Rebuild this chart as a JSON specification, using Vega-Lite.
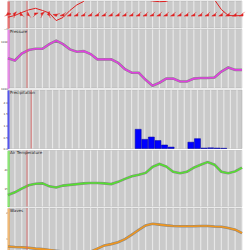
{
  "$schema": "https://vega.github.io/schema/vega-lite/v6.json",
  "padding": 0,
  "spacing": 1.5,
  "bounds": "flush",
  "background": "white",
  "config": {
    "view": {"fill": "#cacaca", "stroke": "#aaaaaa", "strokeWidth": 0.5},
    "axisX": {"labels": false, "ticks": false, "domain": false, "title": null, "grid": false},
    "axisY": {"title": null, "grid": false, "ticks": false, "labelFontSize": 2.8, "labelColor": "#333333", "labelPadding": 0.5, "domainWidth": 2, "labelFont": "DejaVu Sans"},
    "title": {"anchor": "start", "frame": "group", "fontSize": 4, "fontWeight": "normal", "color": "#222222", "font": "DejaVu Sans", "offset": -5.5, "dx": 2}
  },
  "datasets": {
    "met": [
      {"t":0,"p":1015.1,"temp":13.1,"wave":0.19,"wind":-0.2,"dir":200},
      {"t":1,"p":1014.7,"temp":13.8,"wave":0.17,"wind":-0.07,"dir":150},
      {"t":2,"p":1015.9,"temp":14.8,"wave":0.16,"wind":0.15,"dir":90},
      {"t":3,"p":1016.5,"temp":15.7,"wave":0.14,"wind":0.34,"dir":100},
      {"t":4,"p":1016.7,"temp":16.1,"wave":0.11,"wind":0.46,"dir":180},
      {"t":5,"p":1016.7,"temp":16.2,"wave":0.09,"wind":0.3,"dir":160},
      {"t":6,"p":1017.5,"temp":15.4,"wave":0.06,"wind":0.11,"dir":120},
      {"t":7,"p":1018.1,"temp":15.1,"wave":0.03,"wind":-0.45,"dir":30},
      {"t":8,"p":1017.5,"temp":15.6,"wave":0.0,"wind":-0.22,"dir":10},
      {"t":9,"p":1016.6,"temp":15.8,"wave":-0.02,"wind":0.3,"dir":0},
      {"t":10,"p":1016.2,"temp":16.0,"wave":-0.02,"wind":0.71,"dir":0},
      {"t":11,"p":1016.3,"temp":16.2,"wave":-0.02,"wind":0.97,"dir":0},
      {"t":12,"p":1015.8,"temp":16.3,"wave":-0.01,"wind":1.5,"dir":0},
      {"t":13,"p":1014.9,"temp":16.3,"wave":0.11,"wind":1.9,"dir":0},
      {"t":14,"p":1014.9,"temp":16.2,"wave":0.23,"wind":2.2,"dir":0},
      {"t":15,"p":1014.9,"temp":16.0,"wave":0.28,"wind":2.4,"dir":0},
      {"t":16,"p":1014.3,"temp":16.6,"wave":0.35,"wind":2.3,"dir":0},
      {"t":17,"p":1013.2,"temp":17.4,"wave":0.47,"wind":2.0,"dir":0},
      {"t":18,"p":1012.6,"temp":18.1,"wave":0.64,"wind":1.6,"dir":0},
      {"t":19,"p":1012.6,"temp":18.5,"wave":0.82,"wind":1.3,"dir":0},
      {"t":20,"p":1011.4,"temp":19.0,"wave":0.99,"wind":1.1,"dir":0},
      {"t":21,"p":1010.4,"temp":20.6,"wave":1.05,"wind":1.0,"dir":0},
      {"t":22,"p":1010.9,"temp":21.4,"wave":1.02,"wind":0.95,"dir":0},
      {"t":23,"p":1011.6,"temp":20.7,"wave":0.99,"wind":0.97,"dir":0},
      {"t":24,"p":1011.6,"temp":19.3,"wave":0.97,"wind":1.2,"dir":0},
      {"t":25,"p":1011.1,"temp":18.9,"wave":0.96,"wind":1.5,"dir":0},
      {"t":26,"p":1011.1,"temp":19.3,"wave":0.96,"wind":1.8,"dir":0},
      {"t":27,"p":1011.6,"temp":20.4,"wave":0.96,"wind":2.0,"dir":0},
      {"t":28,"p":1011.7,"temp":21.2,"wave":0.97,"wind":1.8,"dir":0},
      {"t":29,"p":1011.7,"temp":21.9,"wave":0.97,"wind":1.4,"dir":0},
      {"t":30,"p":1011.8,"temp":21.2,"wave":0.95,"wind":1.1,"dir":0},
      {"t":31,"p":1012.8,"temp":19.3,"wave":0.94,"wind":0.37,"dir":0},
      {"t":32,"p":1013.5,"temp":18.9,"wave":0.89,"wind":-0.07,"dir":0},
      {"t":33,"p":1013.1,"temp":19.4,"wave":0.83,"wind":-0.1,"dir":0},
      {"t":34,"p":1013.1,"temp":20.4,"wave":0.70,"wind":-0.07,"dir":0}
    ],
    "rain": [
      {"t":19,"pr":0.82},{"t":20,"pr":0.39},{"t":21,"pr":0.49},{"t":22,"pr":0.34},{"t":23,"pr":0.15},{"t":24,"pr":0.06},
      {"t":27,"pr":0.27},{"t":28,"pr":0.42},{"t":29,"pr":0.02},{"t":30,"pr":0.03},{"t":31,"pr":0.02},{"t":32,"pr":0.01}
    ],
    "now": [{"t":2.76}]
  },
  "vconcat": [
    {
      "width": 234, "height": 27,
      "data": {"name": "met"},
      "layer": [
        {"mark": {"type": "rule", "color": "#ffffff", "opacity": 0.55, "strokeWidth": 1.2},
         "encoding": {"x": {"field": "t", "type": "quantitative", "scale": {"domain": [0, 34], "nice": false, "zero": false}}}},
        {"mark": {"type": "line", "color": "#e02020", "strokeWidth": 1, "clip": true},
         "encoding": {
           "x": {"field": "t", "type": "quantitative"},
           "y": {"field": "wind", "type": "quantitative", "scale": {"domain": [-1, 1], "nice": false}, "axis": {"values": [-1, 0], "domainColor": "#e03030"}}
         }},
        {"mark": {"type": "point", "filled": true, "color": "#e02020", "size": 28, "opacity": 1, "shape": "M-1,0.6 L0.4,-0.4 L0.4,0.6 Z M0.4,-0.4 L1,-1", "stroke": "#e02020", "strokeWidth": 0.5},
         "encoding": {
           "x": {"field": "t", "type": "quantitative"},
           "y": {"datum": 0},
           "angle": {"field": "dir", "type": "quantitative", "scale": null}
         }},
        {"data": {"name": "now"}, "mark": {"type": "rule", "color": "#e06060", "strokeWidth": 0.8},
         "encoding": {"x": {"field": "t", "type": "quantitative"}}}
      ]
    },
    {
      "width": 234, "height": 58.5,
      "title": "Pressure",
      "data": {"name": "met"},
      "layer": [
        {"mark": {"type": "rule", "color": "#ffffff", "opacity": 0.55, "strokeWidth": 1.2},
         "encoding": {"x": {"field": "t", "type": "quantitative", "scale": {"domain": [0, 34], "nice": false, "zero": false}}}},
        {"mark": {"type": "line", "color": "#888888", "strokeWidth": 2.6},
         "encoding": {
           "x": {"field": "t", "type": "quantitative"},
           "y": {"field": "p", "type": "quantitative", "scale": {"domain": [1010, 1020], "nice": false, "zero": false}, "axis": {"values": [1010, 1012, 1014, 1016, 1018], "format": "d", "domainColor": "#dd55dd"}}
         }},
        {"mark": {"type": "line", "color": "#e040e0", "strokeWidth": 1.6},
         "encoding": {"x": {"field": "t", "type": "quantitative"}, "y": {"field": "p", "type": "quantitative"}}},
        {"data": {"name": "now"}, "mark": {"type": "rule", "color": "#e06060", "strokeWidth": 0.8},
         "encoding": {"x": {"field": "t", "type": "quantitative"}}}
      ]
    },
    {
      "width": 234, "height": 58.5,
      "title": "Precipitation",
      "layer": [
        {"data": {"name": "met"}, "mark": {"type": "rule", "color": "#ffffff", "opacity": 0.55, "strokeWidth": 1.2},
         "encoding": {"x": {"field": "t", "type": "quantitative", "scale": {"domain": [0, 34], "nice": false, "zero": false}}}},
        {"data": {"name": "rain"}, "mark": {"type": "bar", "color": "#0000ff", "stroke": "#000099", "strokeWidth": 0.5, "size": 6},
         "encoding": {
           "x": {"field": "t", "type": "quantitative"},
           "y": {"field": "pr", "type": "quantitative", "scale": {"domain": [0, 2.5], "nice": false}, "axis": {"values": [0, 0.5, 1, 1.5, 2], "domainColor": "#5555ee"}}
         }},
        {"data": {"name": "now"}, "mark": {"type": "rule", "color": "#e06060", "strokeWidth": 0.8},
         "encoding": {"x": {"field": "t", "type": "quantitative"}}}
      ]
    },
    {
      "width": 234, "height": 56,
      "title": "Air Temperature",
      "data": {"name": "met"},
      "layer": [
        {"mark": {"type": "rule", "color": "#ffffff", "opacity": 0.55, "strokeWidth": 1.2},
         "encoding": {"x": {"field": "t", "type": "quantitative", "scale": {"domain": [0, 34], "nice": false, "zero": false}}}},
        {"mark": {"type": "line", "color": "#888888", "strokeWidth": 2.6},
         "encoding": {
           "x": {"field": "t", "type": "quantitative"},
           "y": {"field": "temp", "type": "quantitative", "scale": {"domain": [10, 25], "nice": false, "zero": false}, "axis": {"values": [15, 20], "domainColor": "#55dd33"}}
         }},
        {"mark": {"type": "line", "color": "#55e030", "strokeWidth": 1.6},
         "encoding": {"x": {"field": "t", "type": "quantitative"}, "y": {"field": "temp", "type": "quantitative"}}},
        {"data": {"name": "now"}, "mark": {"type": "rule", "color": "#e06060", "strokeWidth": 0.8},
         "encoding": {"x": {"field": "t", "type": "quantitative"}}}
      ]
    },
    {
      "width": 234, "height": 58,
      "title": "Waves",
      "data": {"name": "met"},
      "layer": [
        {"mark": {"type": "rule", "color": "#ffffff", "opacity": 0.55, "strokeWidth": 1.2},
         "encoding": {"x": {"field": "t", "type": "quantitative", "scale": {"domain": [0, 34], "nice": false, "zero": false}}}},
        {"mark": {"type": "line", "color": "#888888", "strokeWidth": 2.6},
         "encoding": {
           "x": {"field": "t", "type": "quantitative"},
           "y": {"field": "wave", "type": "quantitative", "scale": {"domain": [-0.55, 1.65], "nice": false, "zero": false}, "axis": {"values": [0.5, 1, 1.5], "domainColor": "#ee9933"}}
         }},
        {"mark": {"type": "line", "color": "#f0961e", "strokeWidth": 1.6},
         "encoding": {"x": {"field": "t", "type": "quantitative"}, "y": {"field": "wave", "type": "quantitative"}}},
        {"mark": {"type": "point", "filled": true, "color": "#e08020", "size": 28, "opacity": 1, "shape": "triangle-up"},
         "encoding": {"x": {"field": "t", "type": "quantitative"}, "y": {"datum": -0.1}}},
        {"data": {"name": "now"}, "mark": {"type": "rule", "color": "#e06060", "strokeWidth": 0.8},
         "encoding": {"x": {"field": "t", "type": "quantitative"}}}
      ]
    }
  ]
}
